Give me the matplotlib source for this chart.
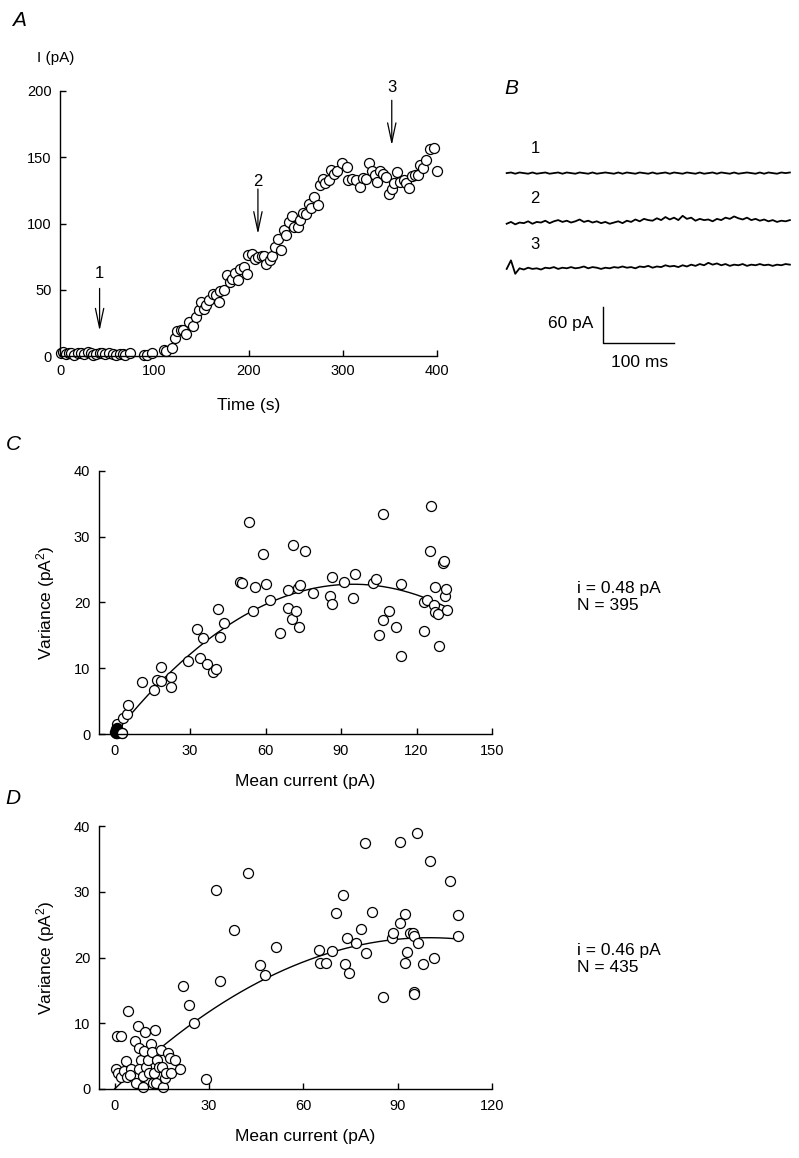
import matplotlib.pyplot as plt
import numpy as np

plt.rcParams['font.family'] = ['Liberation Sans', 'DejaVu Sans']
plt.rcParams['mathtext.fontset'] = 'custom'
plt.rcParams['mathtext.rm'] = 'Liberation Sans'
plt.rcParams['mathtext.it'] = 'Liberation Sans:italic'

# Panel A: whole-cell current against time
time_s = [0.7, 3.5, 6.7, 9.5, 12, 15, 18.7, 22, 25.8, 30, 32.5, 35, 38.5, 42, 45, 47.7,
          52, 56, 59, 64, 66.4, 69.3, 74,
          89, 92.6, 98,
          110, 112.7, 119, 122, 124.4, 128, 130.7, 134, 136.7, 141, 144.5, 148, 149.8,
          152.6, 155, 158.6, 162, 165.7, 168.5, 170, 173.8, 177.4, 180, 183, 186, 189,
          191.5, 195, 198.6, 199.6, 204, 206.7, 210, 213.8, 216, 218.7, 222.6, 225,
          228.6, 231, 235, 237.5, 240, 242.8, 246.3, 248.8, 252.7, 255, 257.6, 261, 264,
          266.4, 270, 273.5, 276.3, 279, 281.6, 285, 288, 291, 294, 299, 304.6, 306, 310,
          314.5, 318, 321.6, 325, 327.6, 331, 334.6, 336.4, 340, 342.8, 346.3, 348.8,
          352.3, 354, 357.6, 360.4, 364.7, 367.5, 370, 373.5, 377, 379.5, 382.3, 385,
          388.7, 393, 397, 399.5]
current_pA = [2, 3, 1.5, 2.5, 2.5, 1, 2, 2, 1.5, 3, 2, 1, 1.5, 2.5, 2, 1.5,
              2.5, 1.5, 1, 1.5, 1.5, 1, 2,
              0.5, 1, 2,
              4.3, 3.8, 6, 13.8, 18.9, 19.4, 19.4, 16.9, 25.7, 23, 29.4, 34.5, 40.8,
              35.7, 38.2, 42, 47, 45.8, 40.8, 49, 50, 60.9, 55.8, 58.4, 62.9, 57,
              66, 67.2, 62, 76, 76.7, 73.5, 74.7, 75.2, 75.2, 69.7, 72.7, 75.2,
              82.3, 88.6, 80.3, 94.8, 91, 101, 106, 97.4, 97.4, 102.4, 108, 107.4, 115,
              112, 120, 113.7, 128.8, 133.8, 130.6, 132.6, 140.6, 137.6, 139.6, 145.7, 143, 132.6, 133.8,
              132.6, 127.5, 134.3, 133.8, 145.7, 140, 136.4, 131.3, 140, 137.6, 135, 122,
              126.3, 130.6, 138.9, 131.3, 132.6, 130.6, 127, 135.6, 136.4, 136.4, 143.9, 141.9,
              148, 156.5, 157.2, 139.6]
arrow_labels = ['1', '2', '3']
arrow_time = [42, 210, 352]
arrow_from = [51, 126, 193]
arrow_to = [19, 92, 159]
label_y = [62, 132, 202.5]

# Panel B: sample current traces (pA deviations, sampled every 6 ms)
trace1 = [0, 1, -1, 1, 0, -1, 1, -1, 0, 1, -1, 0, 1, -1, 1, 0, -1, 1, 0, -1, 1, -1,
          0, 1, 0, -1, 1, -1, 1, 0, -1, 1, 0, -1, 1, -1, 0, 1, -1, 1, 0, -1, 1, 0,
          -1, 1, -1, 0, 1, -1, 1, 0, -1, 1, -1, 0, 1, 0, -1, 1, -1, 1, 0, -1, 1, 0, 1]
trace2 = [-2, 1, -3, 0, -1, 2, -2, 1, 0, 3, -1, 2, 4, 1, 3, 0, 2, 5, 1, 3, 0, 2,
          -1, 1, -2, 0, 2, -1, 3, 1, 5, 2, 6, 4, 3, 7, 4, 9, 5, 8, 4, 11, 6, 8,
          3, 6, 4, 5, 2, 6, 4, 8, 6, 10, 7, 5, 8, 4, 6, 3, 5, 2, 4, 1, 3, 2, 4]
trace3 = [0, 14, -8, 1, -1, 2, 0, 1, -1, 2, 1, 3, 0, 2, 1, 3, 1, 2, 4, 1, 3, 2,
          0, 2, 1, 3, 2, 4, 2, 3, 1, 4, 3, 5, 2, 4, 3, 6, 4, 5, 3, 6, 4, 7,
          5, 8, 6, 10, 7, 9, 6, 8, 5, 7, 6, 8, 5, 7, 6, 8, 6, 7, 5, 7, 6, 8, 7]
trace_duration_ms = 395
trace_offsets = [157, 76, 0]
scale_pA = 60
scale_ms = 100

# Panel C and D: variance against mean current
c0_mean = [0.2, 0.5, 0.8, 1.1, 1.4, 0.4, 0.9]
c0_var = [0.3, 0.1, 0.5, 0.2, 0.4, 0.7, 0.9]
c_mean = [2.9, 0.9, 3.3, 4.9, 5.3, 10.9, 15.5, 16.8, 18.4, 18.4, 22.5, 22.3, 29, 32.9,
          33.8, 35.1, 36.8, 39.3, 40.4, 41.1, 42, 43.3, 50, 50.5, 53.6, 54.9, 55.9,
          58.8, 60, 61.6, 65.6, 68.9, 68.8, 70.8, 70.6, 71.9, 72.9, 73.3, 73.5, 75.6,
          78.7, 85.7, 86.3, 86.3, 91, 94.7, 95.7, 102.7, 103.7, 105.2, 106.7, 106.5,
          108.9, 111.7, 113.7, 113.7, 123.1, 122.8, 124.3, 125.6, 125.4, 126.8, 127.2,
          127.5, 128.4, 129.1, 130.5, 131, 131.3, 131.8, 132.1]
c_var = [0.1, 1.5, 2.4, 3.0, 4.4, 7.9, 6.7, 8.2, 8.1, 10.2, 8.7, 7.2, 11.1, 16,
         11.5, 14.6, 10.7, 9.4, 9.8, 19, 14.8, 16.8, 23.1, 23, 32.2, 18.7, 22.4,
         27.4, 22.8, 20.4, 15.3, 21.9, 19.2, 28.7, 17.5, 18.7, 22.2, 16.3, 22.7, 27.8,
         21.4, 20.9, 23.9, 19.7, 23.1, 20.6, 24.3, 22.9, 23.5, 15.1, 33.4, 17.3,
         18.7, 16.2, 11.9, 22.8, 15.6, 20.1, 20.3, 34.6, 27.8, 19.6, 22.4,
         18.6, 18.3, 13.3, 26, 26.3, 20.9, 22, 18.8]
c_i, c_N, c_fit_max = 0.48, 395, 131

d_mean = [0.5, 0.7, 2.1, 1.1, 2.1, 2.9, 3.7, 4.4, 3.9, 5.3, 5.0, 6.4, 6.9, 7.4, 7.9,
          8.5, 7.9, 9.0, 9.2, 9.7, 9.5, 10.1, 10.6, 10.9, 11.7, 12.0, 12.2, 12.7, 13.0,
          13.6, 13.2, 14.1, 14.8, 15.1, 15.4, 15.9, 16.4, 16.9, 17.5, 18.0, 19.1, 20.7,
          21.7, 23.8, 25.4, 29.1, 32.1, 33.4, 38.1, 42.5, 46.3, 47.7, 51.4, 65.1, 65.4,
          67.1, 69.2, 70.4, 72.6, 73.3, 74.0, 74.5, 76.8, 78.2, 79.7, 79.8, 81.8, 85.3,
          88.1, 88.5, 90.9, 90.9, 92.5, 92.5, 92.9, 93.8, 94.8, 95.1, 95.1, 95.3, 96.3,
          96.4, 98.0, 100.2, 101.7, 106.5, 109.1, 109.3]
d_var = [3.1, 8.0, 8.1, 2.4, 1.9, 2.8, 4.3, 11.9, 1.9, 3.1, 2.1, 7.3, 0.9, 9.6, 6.2,
         4.4, 3.1, 2.0, 0.25, 8.6, 5.8, 3.4, 4.4, 2.4, 6.9, 5.7, 0.9, 2.4, 9.0,
         4.4, 0.9, 3.4, 5.9, 3.4, 0.25, 1.6, 2.4, 5.4, 4.7, 2.5, 4.4, 3.0,
         15.7, 12.7, 10.0, 1.5, 30.3, 16.5, 24.2, 32.9, 18.8, 17.3, 21.6, 21.1, 19.1,
         19.1, 21.0, 26.7, 29.5, 19.0, 22.9, 17.6, 22.2, 24.3, 37.4, 20.7, 26.9, 14.0,
         22.9, 23.7, 37.5, 25.3, 26.6, 19.1, 20.9, 23.7, 23.8, 23.3, 14.7, 14.4, 38.9,
         22.2, 19.0, 34.7, 20.0, 31.7, 26.5, 23.2]
d_i, d_N, d_fit_max = 0.46, 435, 109.3

W, H = 799, 1158
fig = plt.figure(figsize=(W / 100, H / 100), dpi=100)


def px_axes(left, top, right, bottom):
    return fig.add_axes([left / W, 1 - bottom / H, (right - left) / W, (bottom - top) / H])


def style(ax, xpad=6):
    for s in ['top', 'right']:
        ax.spines[s].set_visible(False)
    for s in ['left', 'bottom']:
        ax.spines[s].set_linewidth(1.0)
    ax.tick_params(direction='in', length=4, width=1, labelsize=10.5)
    ax.tick_params(axis='x', pad=xpad)
    ax.tick_params(axis='y', pad=6)


marker = dict(linestyle='none', marker='o', markersize=7.2, markerfacecolor='white',
              markeredgecolor='black', markeredgewidth=0.9, clip_on=False)

# ---- A ----
axA = px_axes(60, 91, 437, 356)
axA.plot(time_s, current_pA, **marker)
axA.set_xlim(0, 400)
axA.set_ylim(0, 200)
axA.set_xticks([0, 100, 200, 300, 400])
axA.set_yticks([0, 50, 100, 150, 200])
style(axA, xpad=6)
axA.set_xlabel('Time (s)', fontsize=12.5, va='center')
axA.xaxis.set_label_coords(0.5, -49 / 265)
for lab, t, y0, y1, ly in zip(arrow_labels, arrow_time, arrow_from, arrow_to, label_y):
    axA.annotate('', xy=(t, y1), xytext=(t, y0), annotation_clip=False,
                 arrowprops=dict(arrowstyle='->,head_length=1.4,head_width=0.3',
                                 mutation_scale=10, lw=0.9, color='black',
                                 shrinkA=0, shrinkB=0))
    axA.text(t, ly, lab, ha='center', va='center', fontsize=12, clip_on=False)
fig.text(37 / W, 1 - 58 / H, 'I (pA)', ha='left', va='center', fontsize=11)
fig.text(19 / W, 1 - 20 / H, 'A', ha='center', va='center', fontsize=15, style='italic')

# ---- B ----
axB = px_axes(500, 120, 799, 380)
axB.set_xlim(-9.3, 407.7)
axB.set_ylim(-182, 244)
axB.axis('off')
for k, (tr, off) in enumerate(zip([trace1, trace2, trace3], trace_offsets)):
    t = np.linspace(0, trace_duration_ms, len(tr))
    axB.plot(t, np.array(tr) + off, color='black', lw=1.3)
    axB.text(39.5, off + 40, str(k + 1), ha='center', va='center', fontsize=12)
bar_x, bar_y = 134, -122
axB.plot([bar_x, bar_x, bar_x + scale_ms], [bar_y + scale_pA, bar_y, bar_y],
         color='black', lw=1.0)
axB.text(bar_x - 13, bar_y + scale_pA / 2 + 3, f'{scale_pA} pA', ha='right', va='center', fontsize=12.5)
axB.text(bar_x + 51, bar_y - 32, f'{scale_ms} ms', ha='center', va='center', fontsize=12.5)
fig.text(511 / W, 1 - 88 / H, 'B', ha='center', va='center', fontsize=15, style='italic')


# ---- C and D ----
def variance_panel(top, bottom, xmin, xmax, xticks, mean, var, i, N, fit_max, letter,
                   letter_y, text_y):
    ax = px_axes(98.5, top, 492, bottom)
    I = np.linspace(0, fit_max, 200)
    ax.plot(I, i * I - I ** 2 / N, color='black', lw=1.0)
    ax.plot(mean, var, **marker)
    ax.set_xlim(xmin, xmax)
    ax.set_ylim(0, 40)
    ax.set_xticks(xticks)
    ax.set_yticks([0, 10, 20, 30, 40])
    style(ax, xpad=7)
    hpx = bottom - top
    ax.set_xlabel('Mean current (pA)', fontsize=12.5, va='center')
    ax.xaxis.set_label_coords(0.5 * xmax / (xmax - xmin) - xmin / (xmax - xmin) + 0.005,
                              -47.5 / hpx)
    ax.set_ylabel('Variance (pA$^{2}$)', fontsize=12.5, va='center')
    ax.yaxis.set_label_coords(-53 / 393.5, 0.5)
    fig.text(13 / W, 1 - letter_y / H, letter, ha='center', va='center', fontsize=15, style='italic')
    fig.text(577 / W, 1 - text_y / H, f'i = {i} pA', ha='left', va='center', fontsize=12.5)
    fig.text(577 / W, 1 - (text_y + 17) / H, f'N = {N}', ha='left', va='center', fontsize=12.5)
    return ax


axC = variance_panel(470.7, 734, -6.4, 150, [0, 30, 60, 90, 120, 150], c_mean, c_var,
                     c_i, c_N, c_fit_max, 'C', 445, 589)
axC.plot(c0_mean, c0_var, linestyle='none', marker='o', markersize=7.2,
         markerfacecolor='black', markeredgecolor='black', clip_on=False)
axC.plot([2.9], [0.1], **marker)

axD = variance_panel(826, 1089, -5.1, 120, [0, 30, 60, 90, 120], d_mean, d_var,
                     d_i, d_N, d_fit_max, 'D', 798, 950)

fig.savefig('out.png', dpi=100)
